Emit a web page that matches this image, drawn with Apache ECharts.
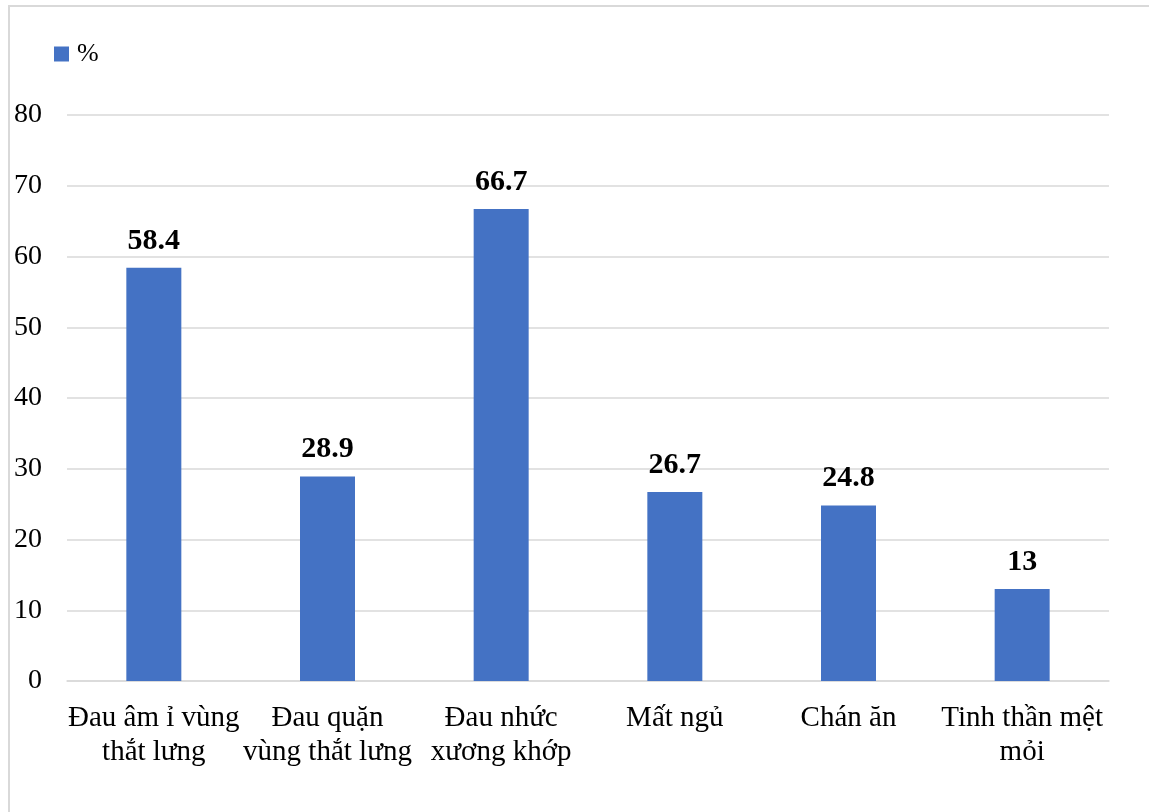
<!DOCTYPE html>
<html>
<head>
<meta charset="utf-8">
<script src="https://cdn.jsdelivr.net/npm/echarts@6/dist/echarts.min.js"></script>
<style>
  html, body { margin: 0; padding: 0; background: #ffffff; }
  #frame {
    position: absolute; left: 8px; top: 5px; width: 1160px; height: 830px;
    border: 2px solid #d9d9d9; box-sizing: border-box;
  }
  #chart { position: absolute; left: 0; top: 0; width: 1149px; height: 812px; }
</style>
</head>
<body>
<div id="frame"></div>
<div id="chart"></div>
<script>
// Symptom categories (x axis) and their share in percent
const categories = [
  'Đau âm ỉ vùng\nthắt lưng',
  'Đau quặn\nvùng thắt lưng',
  'Đau nhức\nxương khớp',
  'Mất ngủ',
  'Chán ăn',
  'Tinh thần mệt\nmỏi'
];
const percentValues = [58.4, 28.9, 66.7, 26.7, 24.8, 13];
const seriesName = '%';

const FONT = '"Liberation Serif", "Times New Roman", serif';
const chart = echarts.init(document.getElementById('chart'), null, { renderer: 'canvas' });

chart.setOption({
  animation: false,
  backgroundColor: 'transparent',
  legend: {
    left: 54, top: 41, padding: 0,
    itemWidth: 15, itemHeight: 15, itemGap: 10,
    icon: 'rect',
    textStyle: { fontFamily: FONT, fontSize: 26, color: '#000', padding: [0, 0, 0, 3] },
    data: [seriesName]
  },
  grid: { left: 67, right: 40, top: 115, bottom: 131, containLabel: false },
  xAxis: {
    type: 'category',
    data: categories,
    axisLine: { lineStyle: { color: '#d9d9d9', width: 1.5 } },
    axisTick: { show: false },
    axisLabel: {
      interval: 0, margin: 20,
      fontFamily: FONT, fontSize: 29, lineHeight: 34, color: '#000', align: 'center'
    }
  },
  yAxis: {
    type: 'value',
    min: 0, max: 80, interval: 10,
    axisLine: { show: false },
    axisTick: { show: false },
    splitLine: { lineStyle: { color: '#d9d9d9', width: 1.5 } },
    axisLabel: { margin: 25, fontFamily: FONT, fontSize: 28, color: '#000', padding: [3, 0, 0, 0] }
  },
  series: [{
    name: seriesName,
    type: 'bar',
    data: percentValues,
    barWidth: 55,
    itemStyle: { color: '#4472c4' },
    label: {
      show: true, position: 'top', distance: 12,
      fontFamily: FONT, fontSize: 30, fontWeight: 'bold', color: '#000'
    }
  }]
});
</script>
</body>
</html>
